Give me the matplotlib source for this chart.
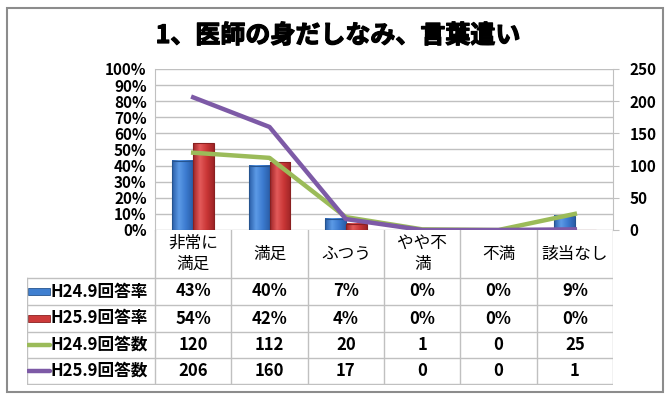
import numpy as np
import matplotlib
matplotlib.use("Agg")
import matplotlib.pyplot as plt
import matplotlib.patheffects as pe
from matplotlib.patches import Rectangle
from matplotlib.colors import LinearSegmentedColormap

plt.rcParams['font.family'] = ['Noto Sans CJK JP', 'DejaVu Sans']

title = "1、医師の身だしなみ、言葉遣い"
categories = ["非常に\n満足", "満足", "ふつう", "やや不\n満", "不満", "該当なし"]
rate_h24 = [43, 40, 7, 0, 0, 9]
rate_h25 = [54, 42, 4, 0, 0, 0]
count_h24 = [120, 112, 20, 1, 0, 25]
count_h25 = [206, 160, 17, 0, 0, 1]
series_names = ["H24.9回答率", "H25.9回答率", "H24.9回答数", "H25.9回答数"]

blue = "#3f7fd0"
red = "#cc3a3a"
green = "#9bbb59"
purple = "#7d5aa6"
grid = "#c0c0c0"

blue_cm = LinearSegmentedColormap.from_list("b", ["#2a5ea8", "#5c9ae6", "#3c7bd0", "#2a5ea8"])
red_cm = LinearSegmentedColormap.from_list("r", ["#9e2426", "#e35a5a", "#c93636", "#9e2426"])

W, H = 670, 400
fig = plt.figure(figsize=(W / 100, H / 100), dpi=100)

def px(l, t, r, b):
    return [l / W, 1 - b / H, (r - l) / W, (b - t) / H]

# outer frame
fig.patches.append(Rectangle((7 / W, 8 / H), 656 / W, 384 / H, transform=fig.transFigure,
                             fill=False, edgecolor="#8c8c8c", lw=1.5))
fig.text(338 / W, 1 - 36 / H, title, ha="center", va="center", fontsize=18, fontweight="bold",
         path_effects=[pe.withStroke(linewidth=0.9, foreground="black")])

x = np.arange(len(categories))
bw = 0.275

ax = fig.add_axes(px(155, 69, 613, 230))
grad = np.linspace(0, 1, 64).reshape(1, -1)
for vals, off, cm, ec in [(rate_h24, -bw / 2, blue_cm, "#25548f"),
                          (rate_h25, bw / 2, red_cm, "#8a2020")]:
    bars = ax.bar(x + off, vals, bw, color="none", edgecolor=ec, lw=0.8, zorder=3)
    for b in bars:
        if b.get_height() <= 0:
            continue
        x0 = b.get_x()
        ax.imshow(grad, cmap=cm, extent=[x0, x0 + b.get_width(), 0, b.get_height()],
                  aspect="auto", zorder=2, interpolation="bilinear")
ax.set_xlim(-0.5, len(categories) - 0.5)
ax.set_ylim(0, 100)
ax.set_yticks(range(0, 101, 10))
ax.set_yticklabels([f"{v}%" for v in range(0, 101, 10)], fontsize=11, fontweight="bold")
ax.set_xticks([])
ax.yaxis.grid(True, color=grid, lw=1, zorder=0)
ax.set_axisbelow(True)
ax.tick_params(axis="y", length=0, pad=6)
for s in ["top", "right", "bottom"]:
    ax.spines[s].set_visible(False)
ax.spines["left"].set_color(grid)

ax2 = ax.twinx()
ax2.plot(x, count_h24, color=green, lw=3.2, zorder=3)
ax2.plot(x, count_h25, color=purple, lw=3.2, zorder=4)
ax2.set_ylim(0, 250)
ax2.set_yticks(range(0, 251, 50))
ax2.set_yticklabels([str(v) for v in range(0, 251, 50)], fontsize=11, fontweight="bold")
ax2.tick_params(axis="y", length=4, color=grid, pad=8)
for s in ["top", "left", "bottom"]:
    ax2.spines[s].set_visible(False)
ax2.spines["right"].set_color(grid)

# data table
ppu = (613 - 155) / len(categories)
tx0 = -0.5 - (155 - 27) / ppu
tab = fig.add_axes(px(27, 230, 613, 385))
tab.set_xlim(tx0, len(categories) - 0.5)
tab.set_ylim(385, 230)
tab.axis("off")
rows_y = [278, 305, 332, 358, 384]
for yy in rows_y:
    tab.plot([tx0, len(categories) - 0.5], [yy, yy], color=grid, lw=1)
for xb in np.arange(len(categories) + 1) - 0.5:
    tab.plot([xb, xb], [230, 384], color=grid, lw=1)
tab.plot([tx0, tx0], [278, 384], color=grid, lw=1)

for i, c in enumerate(categories):
    tab.text(i, 254, c, ha="center", va="center", fontsize=12, linespacing=1.3)

values = [[f"{v}%" for v in rate_h24], [f"{v}%" for v in rate_h25],
          [str(v) for v in count_h24], [str(v) for v in count_h25]]
kx0 = tx0 + 1 / ppu
kx1 = tx0 + 23 / ppu
for r in range(4):
    yc = (rows_y[r] + rows_y[r + 1]) / 2
    if r < 2:
        fc = [blue, red][r]
        tab.add_patch(Rectangle((kx0, yc - 3.5), kx1 - kx0, 7, facecolor=fc,
                                edgecolor=["#25548f", "#8a2020"][r], lw=0.6))
    else:
        tab.plot([kx0, kx1], [yc, yc], color=[green, purple][r - 2], lw=3.2,
                 solid_capstyle="round")
    tab.text(kx1 + 1 / ppu, yc, series_names[r], ha="left", va="center",
             fontsize=12, fontweight="bold")
    for i, v in enumerate(values[r]):
        tab.text(i, yc, v, ha="center", va="center", fontsize=12, fontweight="bold")

fig.savefig("out.png", dpi=100)
